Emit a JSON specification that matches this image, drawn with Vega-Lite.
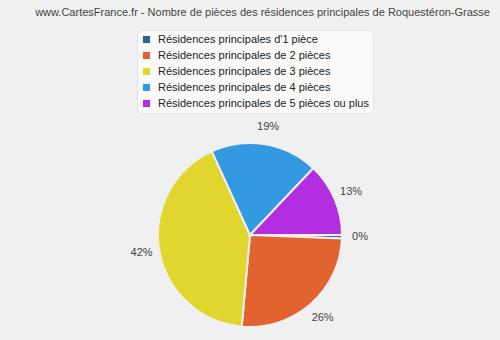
{
  "$schema": "https://vega.github.io/schema/vega-lite/v6.json",
  "width": 500,
  "height": 210,
  "autosize": "none",
  "padding": {"top": 130, "left": 0, "right": 0, "bottom": 0},
  "background": "#f0f0f0",
  "title": {
    "text": "www.CartesFrance.fr - Nombre de pièces des résidences principales de Roquestéron-Grasse",
    "font": "Liberation Sans",
    "fontSize": 11,
    "fontWeight": "normal",
    "color": "#444444",
    "anchor": "end",
    "dx": -10,
    "offset": 12
  },
  "data": {
    "values": [
      {"categorie": "Résidences principales d'1 pièce", "ordre": 1, "part": 0.6, "label": "0%"},
      {"categorie": "Résidences principales de 2 pièces", "ordre": 2, "part": 26, "label": "26%"},
      {"categorie": "Résidences principales de 3 pièces", "ordre": 3, "part": 42, "label": "42%"},
      {"categorie": "Résidences principales de 4 pièces", "ordre": 4, "part": 19, "label": "19%"},
      {"categorie": "Résidences principales de 5 pièces ou plus", "ordre": 5, "part": 13, "label": "13%"}
    ]
  },
  "encoding": {
    "theta": {"field": "part", "type": "quantitative", "stack": true, "scale": {"range": [1.5708, 7.854]}},
    "order": {"field": "ordre", "type": "ordinal"},
    "color": {
      "field": "categorie",
      "type": "nominal",
      "sort": null,
      "scale": {
        "domain": [
          "Résidences principales d'1 pièce",
          "Résidences principales de 2 pièces",
          "Résidences principales de 3 pièces",
          "Résidences principales de 4 pièces",
          "Résidences principales de 5 pièces ou plus"
        ],
        "range": ["#2f6496", "#e2632e", "#e0d62e", "#3399e0", "#b22ee0"]
      },
      "legend": {
        "title": null,
        "orient": "none",
        "legendX": 137,
        "legendY": -100,
        "fillColor": "#fafafa",
        "strokeColor": "#e4e4e4",
        "cornerRadius": 5,
        "padding": 4,
        "symbolType": "square",
        "symbolSize": 50,
        "symbolStrokeWidth": 0,
        "labelFont": "Liberation Sans",
        "labelFontSize": 11,
        "labelColor": "#222222",
        "rowPadding": 4,
        "labelOffset": 6,
        "labelLimit": 300
      }
    }
  },
  "layer": [
    {
      "mark": {"type": "arc", "outerRadius": 92, "stroke": "#f0f0f0", "strokeWidth": 2}
    },
    {
      "mark": {"type": "text", "radius": 110, "font": "Liberation Sans", "fontSize": 11, "color": "#444444"},
      "encoding": {
        "text": {"field": "label"},
        "color": {"value": "#444444"}
      }
    }
  ],
  "config": {"view": {"stroke": null}}
}
